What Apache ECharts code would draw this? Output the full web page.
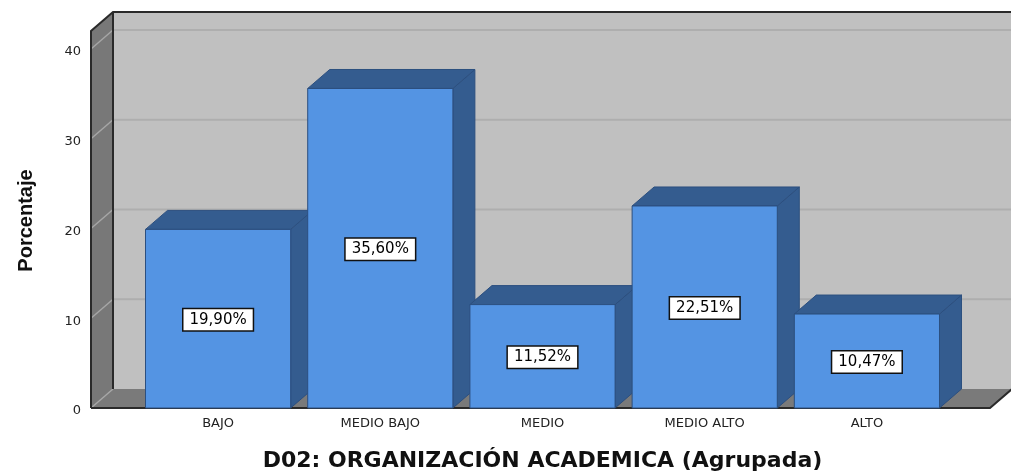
<!DOCTYPE html>
<html>
<head>
<meta charset="utf-8">
<script src="https://cdn.jsdelivr.net/npm/echarts@6/dist/echarts.min.js"></script>
<style>
  html, body { margin: 0; padding: 0; background: #fff; }
  #chart { width: 1011px; height: 472px; }
</style>
</head>
<body>
<div id="chart"></div>
<script>
// datos del grafico
var categories = ['BAJO', 'MEDIO BAJO', 'MEDIO', 'MEDIO ALTO', 'ALTO'];
var percentages = [19.90, 35.60, 11.52, 22.51, 10.47];
var valueTicks = [0, 10, 20, 30, 40];

// efecto 3d (pixeles)
var DX = 22, DY = -19;
var WALL_TOP = 42;

function fmtPct(v) {
    return v.toFixed(2).replace('.', ',') + '%';
}

function renderWalls(params, api) {
    var cs = params.coordSys;
    var L = cs.x - 46;
    var R = cs.x + cs.width + 42;
    var y0 = api.coord([0, 0])[1];
    var yT = api.coord([0, WALL_TOP])[1];
    var kids = [];
    // pared del fondo
    kids.push({ type: 'polygon', shape: { points: [[L + DX, yT + DY], [R + DX + 10, yT + DY], [R + DX + 10, y0 + DY], [L + DX, y0 + DY]] },
        style: { fill: '#c0c0c0' } });
    // pared izquierda
    kids.push({ type: 'polygon', shape: { points: [[L, yT], [L + DX, yT + DY], [L + DX, y0 + DY], [L, y0]] },
        style: { fill: '#787878' } });
    // piso
    kids.push({ type: 'polygon', shape: { points: [[L, y0], [L + DX, y0 + DY], [R + DX, y0 + DY], [R, y0]] },
        style: { fill: '#7a7a7a' } });
    // lineas de rejilla
    valueTicks.forEach(function (v) {
        var y = api.coord([0, v])[1];
        if (v > 0) {
            kids.push({ type: 'line', shape: { x1: L + DX, y1: y + DY, x2: R + DX + 10, y2: y + DY },
                style: { stroke: '#aeaeae', lineWidth: 2 } });
        }
        kids.push({ type: 'line', shape: { x1: L, y1: y, x2: L + DX, y2: y + DY },
            style: { stroke: '#a6a6a6', lineWidth: 1.5 } });
    });
    // bordes
    var edge = { fill: 'none', stroke: '#2a2a2a', lineWidth: 2 };
    kids.push({ type: 'polyline', shape: { points: [[L, y0], [L, yT], [L + DX, yT + DY], [R + DX + 10, yT + DY]] }, style: edge });
    kids.push({ type: 'line', shape: { x1: L + DX, y1: yT + DY, x2: L + DX, y2: y0 + DY }, style: edge });
    kids.push({ type: 'polyline', shape: { points: [[L, y0], [R, y0], [R + DX, y0 + DY]] }, style: edge });
    return { type: 'group', children: kids };
}

function renderBar(params, api) {
    var idx = api.value(0);
    var val = api.value(1);
    var top = api.coord([idx, val]);
    var base = api.coord([idx, 0]);
    var w = api.size([1, 0])[0] * 0.895;
    var x0 = top[0] - w / 2, x1 = top[0] + w / 2;
    var yT = top[1], yB = base[1];
    var edgeColor = '#2c4f7f';
    return {
        type: 'group',
        children: [
            { type: 'polygon', shape: { points: [[x1, yT], [x1 + DX, yT + DY], [x1 + DX, yB + DY], [x1, yB]] },
                style: { fill: '#345c8f', stroke: edgeColor, lineWidth: 1 } },
            { type: 'polygon', shape: { points: [[x0, yT], [x0 + DX, yT + DY], [x1 + DX, yT + DY], [x1, yT]] },
                style: { fill: '#345c8f', stroke: edgeColor, lineWidth: 1 } },
            { type: 'rect', shape: { x: x0, y: yT, width: w, height: yB - yT },
                style: { fill: '#5494e3', stroke: edgeColor, lineWidth: 1 } },
            { type: 'text', x: top[0], y: (yT + yB) / 2 + 1,
                style: { text: fmtPct(val), fill: '#000', font: '15px "DejaVu Sans"',
                    align: 'center', verticalAlign: 'middle',
                    backgroundColor: '#fff', borderColor: '#111', borderWidth: 1.5,
                    padding: [3, 6, 3, 6] } }
        ]
    };
}

var chart = echarts.init(document.getElementById('chart'));
chart.setOption({
    backgroundColor: '#fff',
    animation: false,
    grid: { left: 137, right: 63, top: 49, bottom: 64, outerBoundsMode: 'none' },
    xAxis: {
        type: 'category',
        data: categories,
        axisLine: { show: false },
        axisTick: { show: false },
        axisLabel: { color: '#222', fontSize: 13, fontFamily: 'DejaVu Sans', margin: 9 },
        name: 'D02: ORGANIZACIÓN ACADEMICA (Agrupada)',
        nameLocation: 'middle',
        nameGap: 42,
        nameTextStyle: { color: '#111', fontSize: 22, fontWeight: 'bold', fontFamily: 'DejaVu Sans' }
    },
    yAxis: {
        type: 'value',
        min: 0,
        max: 40,
        interval: 10,
        offset: 46,
        axisLine: { show: false },
        axisTick: { show: false },
        splitLine: { show: false },
        axisLabel: { color: '#222', fontSize: 13, fontFamily: 'DejaVu Sans', margin: 10,
            verticalAlign: 'top', lineHeight: 6 },
        name: 'Porcentaje',
        nameLocation: 'middle',
        nameGap: 55,
        nameTextStyle: { color: '#111', fontSize: 20, fontWeight: 'bold', fontFamily: 'Liberation Sans',
            padding: [0, 0, 0, 16] }
    },
    series: [
        {
            type: 'custom',
            name: 'paredes',
            renderItem: renderWalls,
            data: [[0, 0]],
            z: 1,
            silent: true
        },
        {
            type: 'custom',
            name: 'Porcentaje',
            renderItem: renderBar,
            encode: { x: 0, y: 1 },
            data: percentages.map(function (v, i) { return [i, v]; }),
            z: 2
        }
    ]
});
</script>
</body>
</html>
